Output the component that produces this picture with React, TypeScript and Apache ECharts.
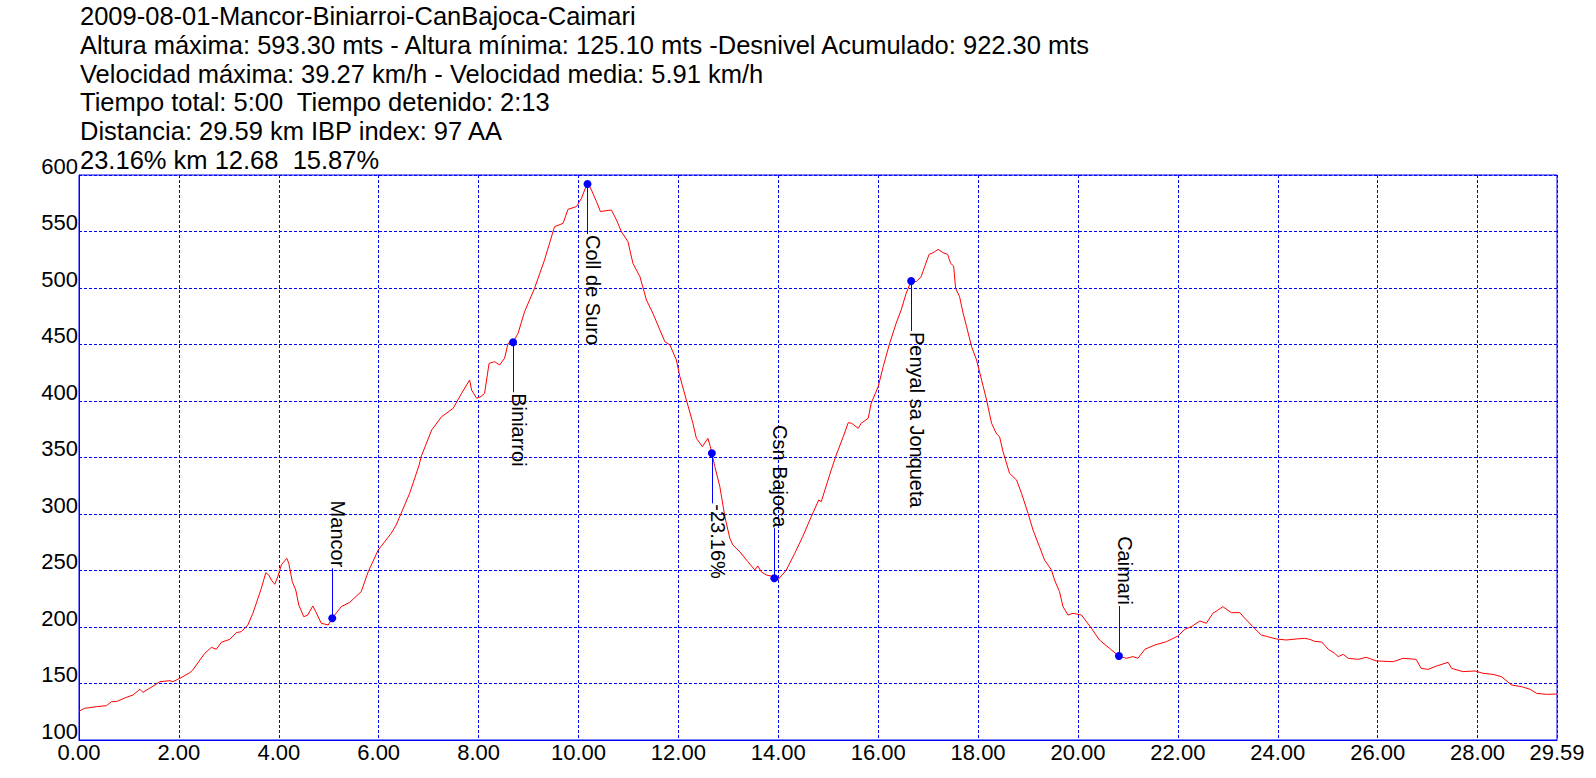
import React, { useEffect, useRef } from "react";
import * as echarts from "echarts";

const headerLines = [
  "2009-08-01-Mancor-Biniarroi-CanBajoca-Caimari",
  "Altura máxima: 593.30 mts - Altura mínima: 125.10 mts -Desnivel Acumulado: 922.30 mts",
  "Velocidad máxima: 39.27 km/h - Velocidad media: 5.91 km/h",
  "Tiempo total: 5:00  Tiempo detenido: 2:13",
  "Distancia: 29.59 km IBP index: 97 AA",
  "23.16% km 12.68  15.87%",
];

const distanceKm = [
  0.0, 0.11, 0.35, 0.55, 0.65, 0.75, 0.95, 1.08, 1.22, 1.28, 1.52, 1.62, 1.82, 1.88, 2.02, 2.22, 2.28,
  2.42, 2.52, 2.65, 2.75, 2.85, 3.02, 3.15, 3.25, 3.38, 3.48, 3.55, 3.65, 3.74, 3.8, 3.85, 3.92, 3.98,
  4.05, 4.16, 4.2, 4.27, 4.34, 4.4, 4.5, 4.58, 4.68, 4.74, 4.85, 4.99, 5.07, 5.25, 5.42, 5.65, 5.79,
  5.99, 6.25, 6.35, 6.52, 6.62, 6.81, 6.85, 7.06, 7.26, 7.49, 7.66, 7.82, 7.86, 7.96, 8.05, 8.12, 8.21,
  8.32, 8.42, 8.52, 8.59, 8.69, 8.79, 8.92, 9.12, 9.32, 9.52, 9.69, 9.79, 9.85, 9.96, 10.06, 10.18,
  10.26, 10.36, 10.44, 10.55, 10.66, 10.76, 10.86, 10.99, 11.09, 11.23, 11.36, 11.49, 11.63, 11.73,
  11.83, 11.96, 12.03, 12.16, 12.29, 12.36, 12.48, 12.59, 12.64, 12.67, 12.73, 12.83, 12.93, 13.03,
  13.09, 13.23, 13.39, 13.53, 13.59, 13.66, 13.76, 13.86, 13.92, 13.99, 14.16, 14.33, 14.49, 14.66,
  14.81, 14.86, 15.06, 15.16, 15.3, 15.4, 15.47, 15.6, 15.66, 15.8, 15.86, 16.0, 16.1, 16.23, 16.36,
  16.46, 16.56, 16.66, 16.76, 16.86, 16.93, 17.02, 17.1, 17.2, 17.3, 17.39, 17.45, 17.51, 17.55, 17.63,
  17.7, 17.77, 17.87, 17.97, 18.07, 18.17, 18.27, 18.37, 18.43, 18.5, 18.63, 18.77, 18.87, 19.0, 19.1,
  19.23, 19.33, 19.47, 19.53, 19.63, 19.7, 19.8, 19.9, 20.07, 20.27, 20.43, 20.63, 20.82, 20.97, 21.1,
  21.2, 21.34, 21.54, 21.77, 22.0, 22.14, 22.27, 22.44, 22.57, 22.7, 22.8, 22.9, 23.07, 23.24, 23.34,
  23.5, 23.67, 23.8, 23.97, 24.17, 24.37, 24.54, 24.64, 24.74, 24.88, 25.01, 25.14, 25.21, 25.31, 25.41,
  25.61, 25.77, 25.97, 26.31, 26.51, 26.77, 26.87, 27.01, 27.18, 27.41, 27.48, 27.71, 27.95, 28.11,
  28.31, 28.48, 28.68, 28.88, 29.05, 29.18, 29.38, 29.59,
];

const elevationM = [
  125.5, 128, 129.5, 130.4, 133.9, 134, 137.8, 139.8, 144.9, 142.2, 148.7, 151.6, 152.5, 151.6, 154.6,
  159.6, 162, 170.8, 176.7, 182, 180.3, 186.5, 189.1, 195, 195.9, 201.8, 212.1, 221, 234.2, 248.1, 246,
  241.6, 237.8, 244.5, 254.9, 260.8, 256.4, 240.1, 232.7, 219.5, 209.1, 210.6, 218.6, 213.6, 203.3,
  201.8, 207.7, 218, 221.8, 231.3, 248.9, 268.1, 282.9, 290.3, 308, 318.3, 343.4, 350.7, 374.3, 386.1,
  393.5, 406.8, 418.6, 409.7, 402.4, 404, 406.8, 433.3, 434.8, 431.9, 437.8, 451.1, 452, 459.9, 479,
  499.7, 524.8, 554.3, 557.2, 569.6, 570.5, 572, 579.4, 593.3, 586.7, 576.4, 567.6, 568.4, 569, 560.2,
  549.8, 541, 521.8, 510, 489.4, 477.6, 462.8, 452.5, 449.6, 436.3, 421.5, 400.9, 380.3, 367, 359.6,
  367, 359.6, 353.7, 341.9, 324.2, 297.6, 278.5, 272.6, 266.6, 257.8, 250.4, 254, 248.9, 246, 245.1,
  243.1, 241.6, 250.4, 265.2, 280.1, 297.6, 312.4, 310.9, 339, 352.2, 368.4, 380.8, 380.3, 375.8, 380.3,
  384.7, 398, 412.7, 430.4, 451.1, 468.8, 480.5, 495.3, 506.2, 505.6, 510, 518.9, 529.8, 531.2, 534.2,
  531.2, 529.8, 521.8, 519.5, 499.7, 492.3, 477.6, 465.8, 448, 436.3, 418.6, 400.9, 380.3, 370.8, 368.4,
  355.1, 336, 330.1, 318.3, 300.6, 285.8, 271, 259.3, 250.4, 241.6, 231.3, 218, 210.6, 212.1, 210.6,
  198.8, 188.5, 181.1, 174.3, 172.3, 173.8, 172.3, 180.3, 184.1, 187, 192, 198, 200.3, 205.3, 203.3,
  212.1, 215, 218, 212.7, 212.7, 207.7, 200.3, 192.9, 191.4, 189.4, 188.5, 189.4, 190, 189.1, 187.3,
  186.7, 180.3, 176.7, 173.8, 175.8, 172.3, 171.4, 173.2, 170, 169.3, 172.3, 171.4, 163.4, 162.5, 165.5,
  168.7, 163.4, 160.5, 161.1, 159, 158.1, 156, 148.7, 147.2, 144.9, 141.3, 140.4, 140.7,
];

const wpNames = ["Mancor", "Biniarroi", "Coll de Suro", "-23.16%", "Csn Bajoca", "Penyal sa Jonqueta", "Caimari"];
const wpKm = [5.07, 8.69, 10.18, 12.67, 13.92, 16.66, 20.82];
const wpElev = [207.7, 452, 592, 353.7, 243.1, 506.2, 174.3];
const wpSide = ["up", "down", "down", "down", "up", "down", "up"];

const FONT = "'Liberation Sans', Arial, sans-serif";

export default function App() {
  const ref = useRef<HTMLDivElement>(null);
  useEffect(() => {
    const chart = echarts.init(ref.current as HTMLDivElement, null, { renderer: "svg" });
    chart.setOption({
      animation: false,
      backgroundColor: "#ffffff",
      title: {
        text: headerLines.join("\n"),
        left: 80,
        top: 2,
        padding: 0,
        textStyle: { fontFamily: FONT, fontSize: 25.5, fontWeight: "normal", color: "#000", lineHeight: 28.7 },
      },
      grid: {
        left: 79,
        right: 39,
        top: 175,
        bottom: 38,
        show: true,
        borderColor: "#0000ff",
        borderWidth: 1,
        containLabel: false,
        outerBoundsMode: "none",
      },
      xAxis: {
        type: "value",
        min: 0,
        max: 29.59,
        interval: 2,
        axisLine: { show: true, lineStyle: { color: "#0000ff", width: 1 } },
        axisTick: { show: false },
        splitLine: { show: true, lineStyle: { color: "#0000ff", width: 1, type: [3, 2] } },
        axisLabel: {
          formatter: (v: number) => v.toFixed(2),
          color: "#000",
          fontFamily: FONT,
          fontSize: 22,
          lineHeight: 22,
          margin: 1,
          showMinLabel: true,
          showMaxLabel: true,
        },
      },
      yAxis: {
        type: "value",
        min: 100,
        max: 600,
        interval: 50,
        axisLine: { show: true, lineStyle: { color: "#0000ff", width: 1 } },
        axisTick: { show: false },
        splitLine: { show: true, lineStyle: { color: "#0000ff", width: 1, type: [3, 2] } },
        axisLabel: {
          formatter: (v: number) => String(Math.round(v)),
          color: "#000",
          fontFamily: FONT,
          fontSize: 22,
          lineHeight: 18,
          verticalAlign: "bottom",
          margin: 1,
        },
      },
      series: [
        {
          type: "line",
          data: distanceKm.map((d, i) => [d, elevationM[i]]),
          showSymbol: false,
          silent: true,
          lineStyle: { color: "#ff0000", width: 1 },
          itemStyle: { color: "#ff0000" },
          z: 3,
        },
        {
          type: "custom",
          silent: true,
          z: 5,
          data: wpKm.map((k, i) => [k, wpElev[i]]),
          renderItem: (params: any, api: any) => {
            const i = params.dataIndex;
            const p = api.coord([api.value(0), api.value(1)]);
            const dir = wpSide[i] === "up" ? -1 : 1;
            const len = 50;
            const lx = Math.round(p[0]) + 0.5;
            const endY = p[1] + dir * len;
            return {
              type: "group",
              children: [
                {
                  type: "line",
                  shape: { x1: lx, y1: p[1], x2: lx, y2: endY },
                  style: { stroke: "#0000ff", lineWidth: 1 },
                },
                {
                  type: "circle",
                  shape: { cx: p[0], cy: p[1], r: 4 },
                  style: { fill: "#0000ff" },
                },
                {
                  type: "text",
                  x: lx + 5,
                  y: endY + dir * 1,
                  rotation: -Math.PI / 2,
                  style: {
                    text: wpNames[i],
                    x: 0,
                    y: 0,
                    fill: "#000",
                    font: "20px " + FONT,
                    align: dir > 0 ? "left" : "right",
                    verticalAlign: "middle",
                  },
                },
              ],
            };
          },
        },
      ],
    });
    return () => chart.dispose();
  }, []);
  return <div ref={ref} style={{ position: "fixed", left: 0, top: 0, width: 1596, height: 778 }} />;
}
